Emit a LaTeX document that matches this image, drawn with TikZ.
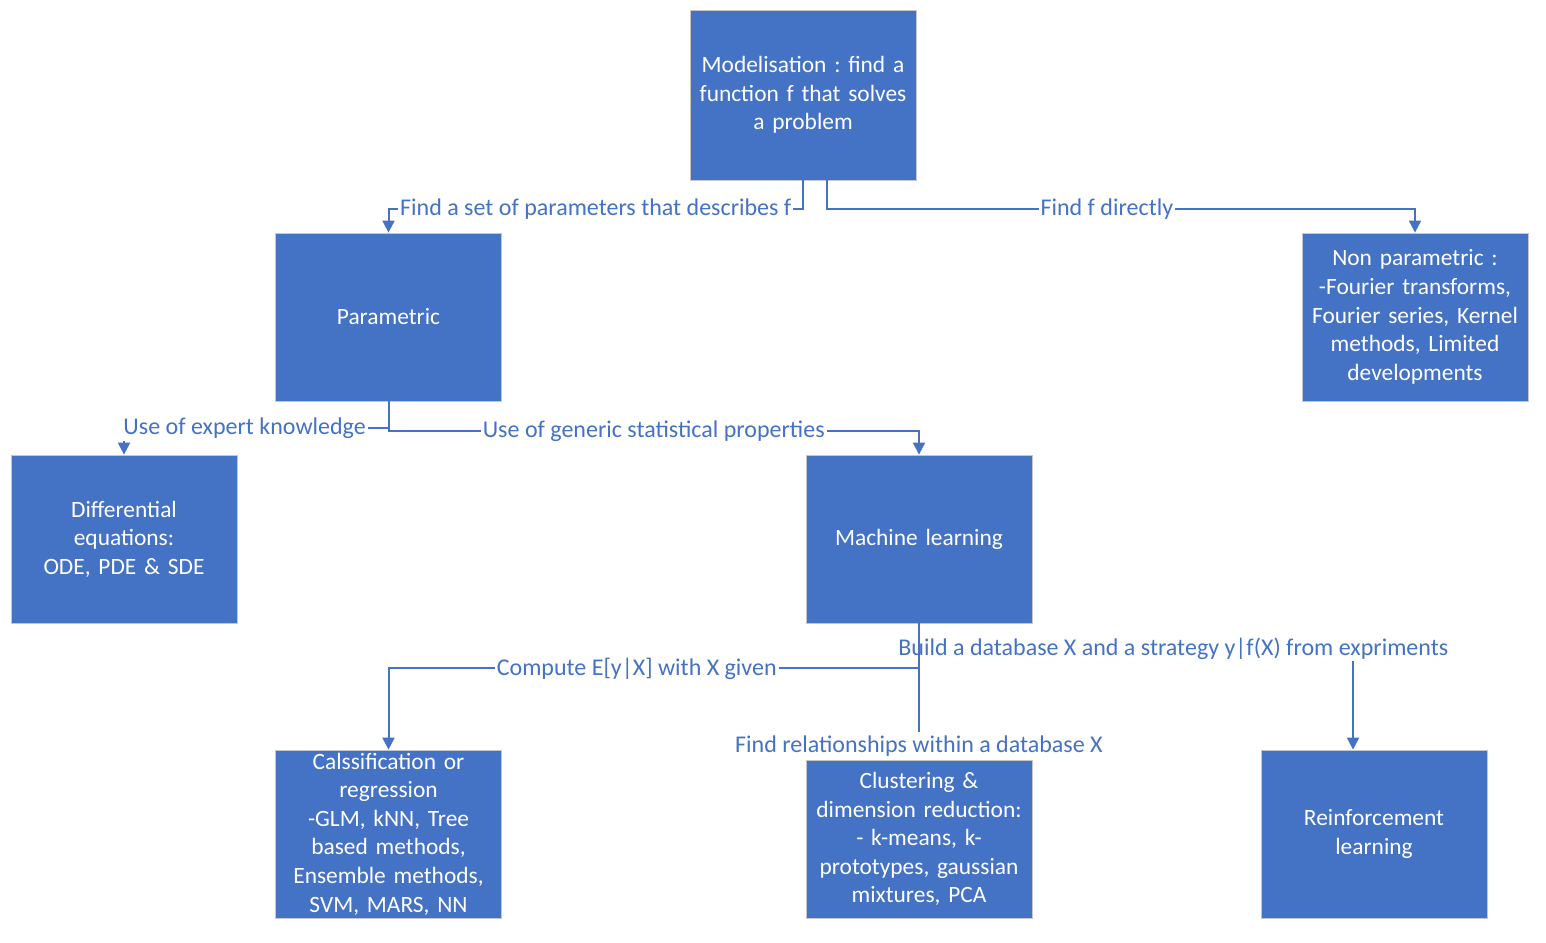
\documentclass[tikz,border=0pt]{standalone}
\usepackage{fontspec}
\setmainfont{Carlito}
\frenchspacing
\usetikzlibrary{positioning,arrows.meta}
\definecolor{officeblue}{HTML}{4472C4}

\begin{document}
\begin{tikzpicture}[%
	x=0.5pt, y=-0.5pt,
	>={Triangle[width=6pt,length=6pt]},
	main node/.style={
		rectangle,
		fill=officeblue,
		draw=gray!45,
		text=white,
		minimum width=113pt,
		minimum height=84pt,
		inner sep=0pt,
		text width=110pt,
		align=center,
		font=\fontsize{11.7}{14.3}\selectfont
	},
	link label/.style={
		fill=white,
		text=officeblue,
		inner sep=1pt,
		font=\fontsize{12}{14.3}\selectfont
	},
	link/.style={
		draw=officeblue,
		line width=1pt
	},
]
	\useasboundingbox (0,0) rectangle (1546,942);
	\node[main node, minimum height=85pt] (1) at (803,95) {Modelisation : find a \\ function f that solves \\ a problem};
	\node[main node] (2) at (388.5,317) {Parametric};
	\node[main node] (3) at (1415,317) {Non parametric : \\ -Fourier transforms, \\ Fourier series, Kernel \\ methods, Limited \\ developments};
	\node[main node] (4) at (124,539) {Differential \\ equations: \\ ODE, PDE \& SDE};
	\node[main node] (5) at (919,539) {Machine learning};
	\node[main node] (6) at (388.5,834) {Calssification or \\ regression \\ -GLM, kNN, Tree \\ based methods, \\ Ensemble methods, \\ SVM, MARS, NN};
	\node[main node, minimum height=79pt] (7) at (919,839) {Clustering \& \\ dimension reduction: \\ - k-means, k- \\ prototypes, gaussian \\ mixtures, PCA};
	\node[main node] (8) at (1374,834) {Reinforcement \\ learning};
	% first level
	\path[link,->] (1.south) -- ++(0,29) -| (2.north)
		node [link label, pos=0.25] {Find a set of parameters that describes f};
	\path[link,->] ([xshift=12pt]1.south) -- ++(0,29) -| (3.north)
		node [link label, pos=0.238] {Find f directly};
	% parametric
	\path[link,->] (2.south) -- ++(0,27) -| (4.north)
		node [link label, pos=0.272] {Use of expert knowledge};
	\path[link,->] (2.south) -- ++(0,30) -| (5.north)
		node [link label, pos=0.25] {Use of generic statistical properties};
	% machine learning
	\path[link,->] (5.south) -- ++(0,45) -| (6.north)
		node [link label, pos=0.266] {Compute E[y|X] with X given};
	\path[link,->] (5.south) -- ++(0,25) -| ([xshift=-10.5pt]8.north)
		node [link label, pos=0.293] {Build a database X and a strategy y|f(X) from expriments};
	\path[link,->] (5.south) -- (7.north)
		node [link label, pos=0.9, inner ysep=2pt] {Find relationships within a database X};
\end{tikzpicture}
\end{document}
